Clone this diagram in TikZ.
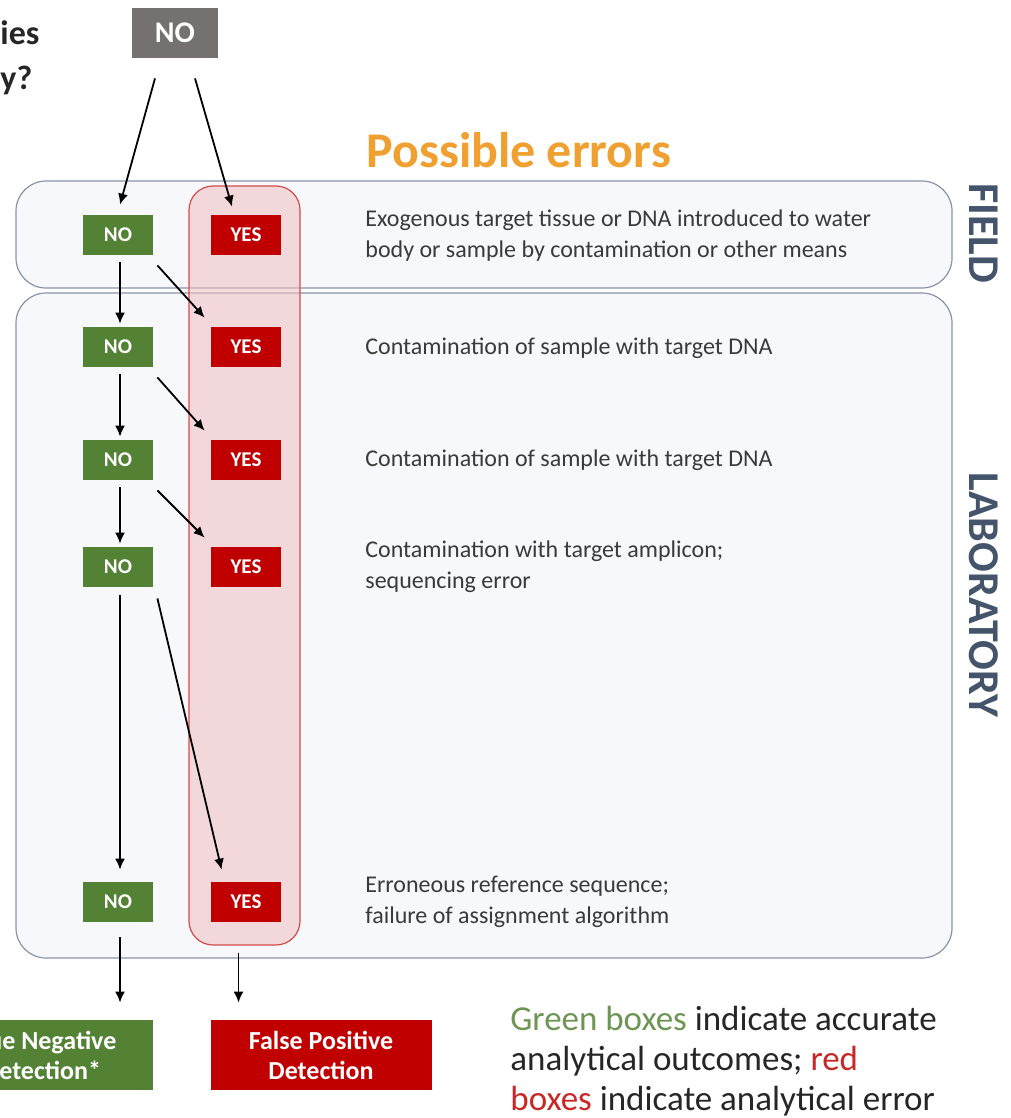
\documentclass[tikz,border=0pt]{standalone}
\usepackage{fontspec}
\setmainfont{Carlito}
\usetikzlibrary{arrows.meta}
\definecolor{okgreen}{HTML}{548235}
\definecolor{errred}{HTML}{C00000}
\definecolor{nogray}{HTML}{767171}
\definecolor{stagefill}{HTML}{F6F8FC}
\definecolor{stageline}{HTML}{8A94A8}
\definecolor{stagetext}{HTML}{44546A}
\definecolor{errorange}{HTML}{F0A030}
\definecolor{desctext}{HTML}{3A3A3A}

\begin{document}
\begin{tikzpicture}[x=0.5pt,y=-0.5pt,
  no/.style={fill=okgreen,text=white,font=\fontsize{10.5}{12}\selectfont\bfseries,minimum width=35pt,minimum height=20pt,inner sep=0pt},
  yes/.style={no,fill=errred},
  desc/.style={anchor=west,align=left,inner sep=0pt,text=desctext,font=\fontsize{12}{15.5}\selectfont},
  stage/.style={draw=stageline,fill=stagefill,rounded corners=15pt,line width=0.6pt,minimum width=468pt,inner sep=0pt},
  stagelabel/.style={rotate=-90,text=stagetext,font=\fontsize{22}{24}\selectfont\bfseries},
  arr/.style={-{Latex[length=5.5pt,width=5pt]},line width=0.9pt},
  result/.style={text=white,font=\fontsize{13}{15}\selectfont\bfseries,align=center,minimum width=110.5pt,minimum height=35pt,inner sep=0pt}]

\useasboundingbox (0,0) rectangle (1011,1118);

% stages
\node[stage,minimum height=53.5pt] (field) at (484,234.5) {};
\node[stage,minimum height=332.5pt] (lab) at (484,625.5) {};
\node[stagelabel] (fieldlbl) at (984,233) {FIELD};
\node[stagelabel] (lablbl) at (984,595) {LABORATORY};

% column of errors
\node[draw=errred!70,fill=errred!25,fill opacity=0.55,rounded corners=12pt,line width=0.6pt,
  minimum width=55.5pt,minimum height=379.5pt,inner sep=0pt] (errcol) at (244.5,565.5) {};

% question and start
\node[anchor=base west,inner sep=0pt,font=\fontsize{17}{20}\selectfont\bfseries,text=black!85] (ques1) at (0,45) {ies};
\node[anchor=base west,inner sep=0pt,font=\fontsize{17}{20}\selectfont\bfseries,text=black!85] (ques2) at (0,90) {y?};
\node[fill=nogray,text=white,font=\fontsize{15}{18}\selectfont\bfseries,minimum width=43pt,minimum height=25pt,inner sep=0pt] (start) at (175,33) {NO};

\node[anchor=west,inner sep=0pt,text=errorange,font=\fontsize{25}{28}\selectfont\bfseries] (errhead) at (366,150) {Possible errors};

% outcomes at each step
\foreach \r/\y in {1/235,2/347,3/460,4/567,5/902} {
  \node[no] (no\r) at (118,\y) {NO};
  \node[yes] (yes\r) at (246,\y) {YES};
}

\draw[arr] ([xshift=-10pt,yshift=-10pt]start.south) -- ([xshift=1pt,yshift=5pt]no1.north);
\draw[arr] ([xshift=10pt,yshift=-10pt]start.south) -- ([xshift=-7pt,yshift=4pt]yes1.north);
\foreach \r/\n in {1/2,2/3,3/4} {
  \draw[arr,shorten <=3.5pt,shorten >=1.5pt] ([xshift=1pt]no\r.south) -- ([xshift=1pt]no\n.north);
  \draw[arr] ([shift={(2pt,-5pt)}]no\r.south east) -- ([shift={(-3pt,4.5pt)}]yes\n.north west);
}
\draw[arr,shorten <=4pt,shorten >=6pt] ([xshift=1pt]no4.south) -- ([xshift=1pt]no5.north);
\draw[arr] ([shift={(2pt,-5.5pt)}]no4.south east) -- ([shift={(5.5pt,6pt)}]yes5.north west);

% descriptions
\node[desc] (err1) at (365,236) {Exogenous target tissue or DNA introduced to water\\body or sample by contamination or other means};
\node[desc] (err2) at (365,348) {Contamination of sample with target DNA};
\node[desc] (err3) at (365,460) {Contamination of sample with target DNA};
\node[desc] (err4) at (365,567) {Contamination with target amplicon;\\sequencing error};
\node[desc] (err5) at (365,902) {Erroneous reference sequence;\\failure of assignment algorithm};

% results
\node[result,fill=okgreen] (trueneg) at (42,1055) {True Negative\\Detection*};
\node[result,fill=errred] (falsepos) at (321,1055) {False Positive\\Detection};
\draw[arr,shorten <=7.5pt,shorten >=8.5pt] ([xshift=1pt]no5.south) -- ([xshift=1pt]no5.south |- trueneg.north);
\draw[arr,shorten <=3.5pt,shorten >=8.5pt] ([xshift=-3pt]errcol.south) -- ([xshift=-3pt]errcol.south |- falsepos.north);

\node[anchor=north west,inner sep=0pt,align=left,text=black!85,font=\fontsize{17.5}{20}\selectfont] (legend) at (510,1006)
  {{\color{okgreen!85}Green boxes} indicate accurate\\analytical outcomes; {\color{errred!85}red}\\{\color{errred!85}boxes} indicate analytical error};
\end{tikzpicture}
\end{document}
